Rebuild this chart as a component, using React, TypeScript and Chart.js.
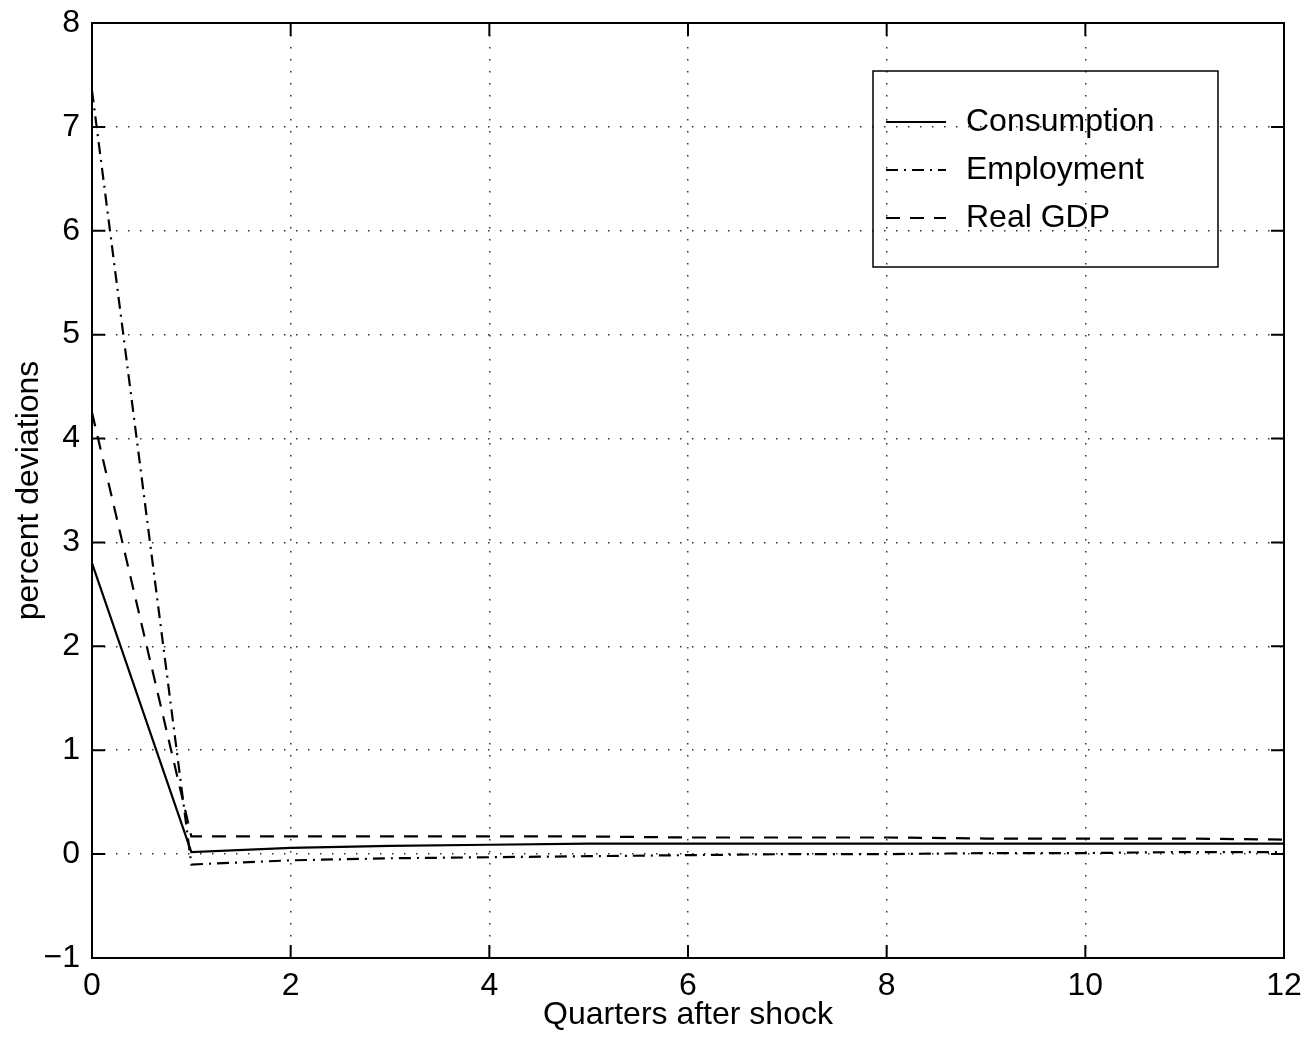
import React, { useEffect, useRef } from "react";
import { Chart, registerables } from "chart.js";

Chart.register(...registerables);

const quarters = [0, 1, 2, 3, 4, 5, 6, 7, 8, 9, 10, 11, 12];
const consumption = [2.8, 0.02, 0.06, 0.08, 0.09, 0.1, 0.1, 0.1, 0.1, 0.1, 0.1, 0.1, 0.1];
const employment = [7.35, -0.1, -0.06, -0.04, -0.03, -0.02, -0.01, 0.0, 0.0, 0.01, 0.01, 0.02, 0.02];
const realGdp = [4.25, 0.17, 0.17, 0.17, 0.17, 0.17, 0.16, 0.16, 0.16, 0.15, 0.15, 0.15, 0.14];

const seriesNames = ["Consumption", "Employment", "Real GDP"];
const xAxisTitle = "Quarters after shock";
const yAxisTitle = "percent deviations";

const FONT = "'Liberation Sans', Arial, Helvetica, sans-serif";
const FS = 32;
const dashes: number[][] = [[], [12, 6, 2, 6], [14, 10]];

const fmt = (v: any) => String(v).replace("-", "\u2212");

const frameAndLegend = {
  id: "frameAndLegend",
  afterDatasetsDraw(chart: any) {
    const { ctx, chartArea, scales } = chart;
    const { left, right, top, bottom } = chartArea;
    ctx.save();
    ctx.strokeStyle = "#000";
    ctx.lineWidth = 2;
    ctx.setLineDash([]);
    ctx.strokeRect(left, top, right - left, bottom - top);
    const tl = 13;
    ctx.beginPath();
    scales.x.ticks.forEach((t: any) => {
      const px = scales.x.getPixelForValue(t.value);
      ctx.moveTo(px, bottom);
      ctx.lineTo(px, bottom - tl);
      ctx.moveTo(px, top);
      ctx.lineTo(px, top + tl);
    });
    scales.y.ticks.forEach((t: any) => {
      const py = scales.y.getPixelForValue(t.value);
      ctx.moveTo(left, py);
      ctx.lineTo(left + tl, py);
      ctx.moveTo(right, py);
      ctx.lineTo(right - tl, py);
    });
    ctx.stroke();

    // legend
    const bx = 873, by = 71, bw = 345, bh = 196;
    ctx.lineWidth = 1.5;
    ctx.strokeRect(bx, by, bw, bh);
    ctx.font = `${FS}px ${FONT}`;
    ctx.fillStyle = "#000";
    ctx.textBaseline = "middle";
    ctx.textAlign = "left";
    seriesNames.forEach((name, i) => {
      const y = 122 + i * 48;
      ctx.beginPath();
      ctx.lineWidth = 2.2;
      ctx.setLineDash(dashes[i]);
      ctx.moveTo(886, y);
      ctx.lineTo(946, y);
      ctx.stroke();
      ctx.setLineDash([]);
      ctx.fillText(name, 966, y);
    });
    ctx.restore();
  },
};

export default function App() {
  const ref = useRef<HTMLCanvasElement | null>(null);
  useEffect(() => {
    const series = [consumption, employment, realGdp];
    const chart = new Chart(ref.current as HTMLCanvasElement, {
      type: "line",
      data: {
        datasets: series.map((vals, i) => ({
          label: seriesNames[i],
          data: quarters.map((q, j) => ({ x: q, y: vals[j] })),
          borderColor: "#000",
          borderWidth: 2.2,
          borderDash: dashes[i],
          pointRadius: 0,
          tension: 0,
          fill: false,
        })),
      },
      options: {
        animation: false,
        responsive: false,
        layout: { padding: { top: 23, right: 26, left: 0, bottom: 0 } },
        plugins: { legend: { display: false }, tooltip: { enabled: false } },
        scales: {
          x: {
            type: "linear",
            min: 0,
            max: 12,
            ticks: { stepSize: 2, color: "#000", font: { family: FONT, size: FS }, padding: 9, maxRotation: 0, callback: fmt },
            grid: { color: "#333", lineWidth: 1.5, drawTicks: false },
            border: { display: false, dash: [1.5, 10.5] },
            title: { display: true, text: xAxisTitle, color: "#000", font: { family: FONT, size: FS }, padding: { top: 0, bottom: 3 } },
            afterFit: (s: any) => {
              s.height = 79;
              s.paddingLeft = 0;
              s.paddingRight = 0;
            },
          },
          y: {
            type: "linear",
            min: -1,
            max: 8,
            ticks: { stepSize: 1, color: "#000", font: { family: FONT, size: FS }, padding: 12, callback: fmt },
            grid: { color: "#333", lineWidth: 1.5, drawTicks: false },
            border: { display: false, dash: [1.5, 10.5] },
            title: { display: true, text: yAxisTitle, color: "#000", font: { family: FONT, size: FS }, padding: { top: 10, bottom: 0 } },
            afterFit: (s: any) => {
              s.width = 92;
              s.paddingTop = 0;
              s.paddingBottom = 0;
            },
          },
        },
      },
      plugins: [frameAndLegend],
    });
    return () => chart.destroy();
  }, []);
  return (
    <div style={{ position: "fixed", left: 0, top: 0, width: 1310, height: 1037, background: "#fff" }}>
      <canvas ref={ref} width={1310} height={1037} style={{ width: 1310, height: 1037 }} />
    </div>
  );
}
